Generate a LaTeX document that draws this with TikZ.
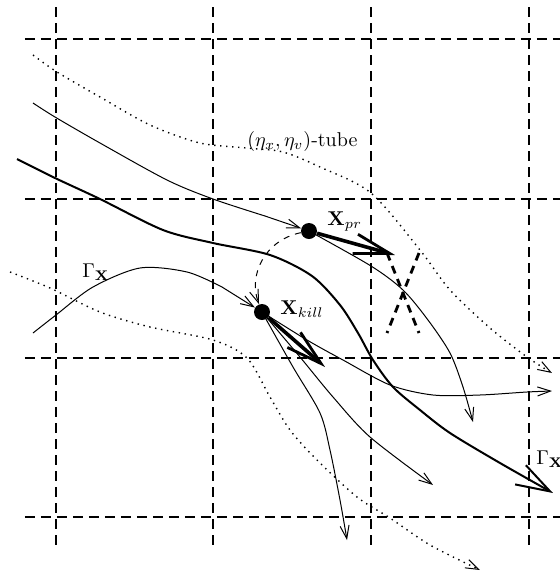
\documentclass[tikz,border=0pt]{standalone}
\usepackage{amsmath}
\usepackage{amssymb}
\usepackage{tikz}
\usetikzlibrary{
  arrows.meta,
  calc
}
\tikzset{
  % Panjara chiziqlari
  gridline/.style  = {line width=0.6pt, dash pattern=on 5pt off 3pt},
  % Trayektoriyalar
  trajline/.style  = {line width=0.5pt, -{Straight Barb[length=6.5pt,width=4.5pt]}},
  maintraj/.style  = {line width=1pt, -{Straight Barb[length=17pt,width=11pt]}},
  tubeline/.style  = {line width=0.7pt, dash pattern=on 0.7pt off 2.3pt,
                      -{Straight Barb[length=6.5pt,width=4.5pt,line width=0.5pt]}},
  jumpline/.style  = {line width=0.5pt, dashed, -{Straight Barb[length=6.5pt,width=4.5pt]}},
  % Tezlik strelkalari
  velarrow/.style  = {line width=1.8pt, -{Straight Barb[length=18pt,width=10pt,line width=1.4pt]}},
  crossmark/.style = {line width=1.4pt, dash pattern=on 4pt off 3pt},
  % Nuqtalar va etiketlar
  dotpt/.style     = {circle, fill=black, inner sep=0pt, minimum size=8pt},
  lab/.style       = {inner sep=0pt, anchor=base west},
}
\begin{document}
\begin{tikzpicture}[x=0.5pt,y=-0.5pt]
  \useasboundingbox (0,0) rectangle (560,575);
  % Panjara
  \foreach \x in {56,213,371,529}
    \draw[gridline] (\x,7) -- (\x,550);
  \foreach \y in {39,199,358,517}
    \draw[gridline] (25,\y) -- (560,\y);
  % Nuqtalar
  \node[dotpt] (xpr) at (309,231) {};
  \node[dotpt] (xkill) at (262,312) {};
  \coordinate (vpr) at (395,255);
  \coordinate (vkill) at (325,367);
  % Etiketlar
  \node[lab] (xprlab) at (327,225) {$\mathbf{X}_{pr}$};
  \node[lab] (xkilllab) at (280,314) {$\mathbf{X}_{kill}$};
  \node[lab] (tubelab) at (247,146) {$(\eta_x,\eta_v)$-tube};
  \node[lab] (gammalab) at (82,277) {$\Gamma_{\mathbf{X}}$};
  \node[lab] (gammalabr) at (536,464) {$\Gamma_{\mathbf{X}}$};
  % Naycha chegaralari
  \draw[tubeline] plot[smooth] coordinates {(33,55) (57,72) (100,97) (150,125)
    (200,143) (247,148) (283,152) (320,167) (371,193) (420,250) (450,290)
    (490,328) (527,357) (552,373)};
  \draw[tubeline] plot[smooth] coordinates {(10,272) (50,288) (100,312) (150,327)
    (213,340) (247,358) (270,397) (290,430) (317,460) (357,497) (390,518)
    (430,545) (480,570)};
  % Asosiy trayektoriya
  \draw[maintraj] plot[smooth] coordinates {(17,159) (55,178) (100,199) (163,230)
    (213,243) (270,255) (312,276) (340,305) (358,333) (373,360) (393,387)
    (420,410) (450,433) (500,463) (553,493)};
  % Kiruvchi trayektoriyalar
  \draw[trajline] plot[smooth] coordinates {(33,103) (55,117) (100,143) (167,180)
    (213,199) (265,216)} -- (xpr);
  \draw[trajline] plot[smooth] coordinates {(33,333) (56,315) (93,287) (140,268)
    (187,272) (222,287)} -- (xkill);
  % Chiquvchi trayektoriyalar
  \draw[trajline] plot[smooth] coordinates {(xpr.center) (371,266) (403,290)
    (428,320) (450,353) (463,387) (473,422)};
  \draw[trajline] plot[smooth] coordinates {(xkill.center) (307,340) (343,360)
    (390,385) (433,395) (480,395) (527,392) (552,391)};
  \draw[trajline] plot[smooth] coordinates {(xkill.center) (300,357) (333,397)
    (370,437) (433,485)};
  \draw[trajline] plot[smooth] coordinates {(xkill.center) (293,367) (320,413)
    (330,450) (340,500) (347,540)};
  % Sakrash
  \draw[jumpline] (xpr) .. controls (265,240) and (248,275) .. (xkill);
  % Tezliklar
  \draw[velarrow] (xpr) -- (vpr);
  \draw[velarrow] (xkill) -- (vkill);
  \draw[crossmark] (387,253) -- (419,333);
  \draw[crossmark] (419,253) -- (387,333);
\end{tikzpicture}
\end{document}
